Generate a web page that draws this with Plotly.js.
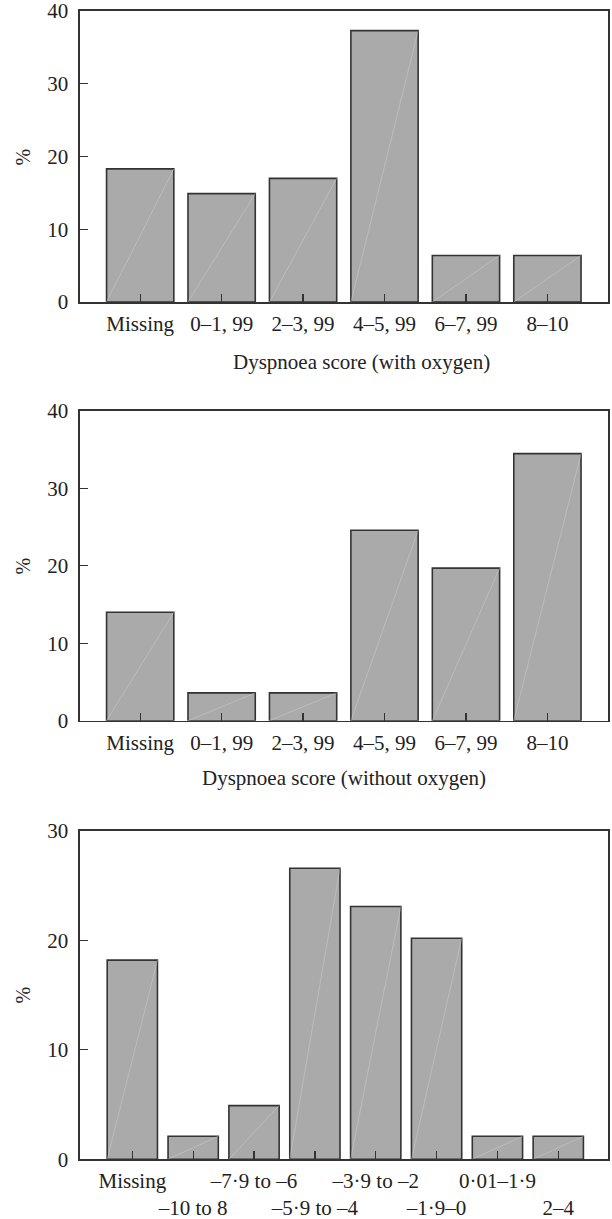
<!DOCTYPE html>
<html>
<head>
<meta charset="utf-8">
<script src="https://cdn.plot.ly/plotly-3.0.1.min.js"></script>
<style>
  html, body { margin: 0; padding: 0; background: #ffffff; }
  #chart { width: 612px; height: 1219px; }
</style>
</head>
<body>
<div id="chart"></div>
<script>
// ---------- DATA ----------
const dyspnoeaCategories = ['Missing', '0–1, 99', '2–3, 99', '4–5, 99', '6–7, 99', '8–10'];
const withOxygenPct = [18.3, 14.9, 17.0, 37.3, 6.4, 6.4];
const withoutOxygenPct = [14.0, 3.6, 3.6, 24.6, 19.7, 34.5];

const changeCategories = ['Missing', '–10 to 8', '–7·9 to –6', '–5·9 to –4', '–3·9 to –2', '–1·9–0', '0·01–1·9', '2–4'];
const changePct = [18.2, 2.1, 4.9, 26.6, 23.1, 20.2, 2.1, 2.1];

const yTicksTop = [0, 10, 20, 30, 40];
const yTicksBottom = [0, 10, 20, 30];

const titleWithOxygen = 'Dyspnoea score (with oxygen)';
const titleWithoutOxygen = 'Dyspnoea score (without oxygen)';
const yTitle = '%';

// ---------- STYLE ----------
const FONT = 'Liberation Serif, Times New Roman, Times, serif';
const TEXT = '#222222';
const LINE = '#333333';
const FILL = '#aaaaaa';
const BARW = 0.826;

function idx(arr) { return arr.map((_, i) => i); }

function barTrace(values, xa, ya) {
  return {
    type: 'bar', x: idx(values), y: values, width: BARW,
    xaxis: xa, yaxis: ya,
    marker: { color: FILL, line: { color: LINE, width: 1.6 } },
    hoverinfo: 'skip', showlegend: false
  };
}
function diagTrace(values, xa, ya) {
  const xs = [], ys = [];
  values.forEach((v, i) => { xs.push(i - BARW / 2, i + BARW / 2, null); ys.push(0, v, null); });
  return {
    type: 'scatter', mode: 'lines', x: xs, y: ys, xaxis: xa, yaxis: ya,
    line: { color: 'rgba(215,215,215,0.7)', width: 0.6 },
    hoverinfo: 'skip', showlegend: false
  };
}

const data = [
  barTrace(withOxygenPct, 'x', 'y'), diagTrace(withOxygenPct, 'x', 'y'),
  barTrace(withoutOxygenPct, 'x2', 'y2'), diagTrace(withoutOxygenPct, 'x2', 'y2'),
  barTrace(changePct, 'x3', 'y3'), diagTrace(changePct, 'x3', 'y3')
];

const H = 1219, W = 612;
function py(pix) { return (H - pix) / H; }
const xDom = [80 / W, 608 / W];

function xAxis(anchor, cats, range, multiRow) {
  return {
    anchor: anchor, domain: xDom, range: range, fixedrange: true,
    tickmode: 'array', tickvals: idx(cats),
    ticktext: multiRow ? cats.map((c, i) => (i % 2 ? '<br>' + c : c)) : cats,
    tickangle: 0,
    ticks: 'inside', ticklen: 8, tickwidth: 1.3, tickcolor: LINE,
    showline: true, linecolor: LINE, linewidth: 1.6, mirror: true,
    showgrid: false, zeroline: false,
    tickfont: { family: FONT, size: 21, color: TEXT },
    ticklabelstandoff: 2, ticklabeloverflow: 'allow'
  };
}
function yAxis(anchor, dom, ticks) {
  return {
    anchor: anchor, domain: dom, range: [0, ticks[ticks.length - 1]], fixedrange: true,
    tickmode: 'array', tickvals: ticks,
    ticks: 'inside', ticklen: 8, tickwidth: 1.3, tickcolor: LINE,
    showline: true, linecolor: LINE, linewidth: 1.6, mirror: true,
    showgrid: false, zeroline: false,
    tickfont: { family: FONT, size: 21, color: TEXT },
    ticklabelstandoff: 6, ticklabeloverflow: 'allow'
  };
}

const layout = {
  width: W, height: H,
  margin: { l: 0, r: 0, t: 0, b: 0 },
  paper_bgcolor: '#ffffff', plot_bgcolor: '#ffffff',
  showlegend: false,
  font: { family: FONT, size: 21, color: TEXT },
  xaxis: xAxis('y', dyspnoeaCategories, [-0.739, 5.744], false),
  yaxis: yAxis('x', [py(302), py(11)], yTicksTop),
  xaxis2: xAxis('y2', dyspnoeaCategories, [-0.739, 5.744], false),
  yaxis2: yAxis('x2', [py(720.7), py(411)], yTicksTop),
  xaxis3: xAxis('y3', changeCategories, [-0.86, 7.817], true),
  yaxis3: yAxis('x3', [py(1159.2), py(831)], yTicksBottom),
  annotations: [
    { text: titleWithOxygen, xref: 'paper', yref: 'paper', x: 361 / W, y: py(361.7),
      xanchor: 'center', yanchor: 'middle', showarrow: false, font: { family: FONT, size: 21, color: TEXT } },
    { text: titleWithoutOxygen, xref: 'paper', yref: 'paper', x: 344 / W, y: py(778),
      xanchor: 'center', yanchor: 'middle', showarrow: false, font: { family: FONT, size: 21, color: TEXT } },
    { text: yTitle, xref: 'paper', yref: 'paper', x: 22.5 / W, y: py(157), textangle: -90,
      xanchor: 'center', yanchor: 'middle', showarrow: false, font: { family: FONT, size: 20, color: TEXT } },
    { text: yTitle, xref: 'paper', yref: 'paper', x: 22.5 / W, y: py(566), textangle: -90,
      xanchor: 'center', yanchor: 'middle', showarrow: false, font: { family: FONT, size: 20, color: TEXT } },
    { text: yTitle, xref: 'paper', yref: 'paper', x: 22.5 / W, y: py(995), textangle: -90,
      xanchor: 'center', yanchor: 'middle', showarrow: false, font: { family: FONT, size: 20, color: TEXT } }
  ]
};

Plotly.newPlot('chart', data, layout, { staticPlot: true, displayModeBar: false });
</script>
</body>
</html>
